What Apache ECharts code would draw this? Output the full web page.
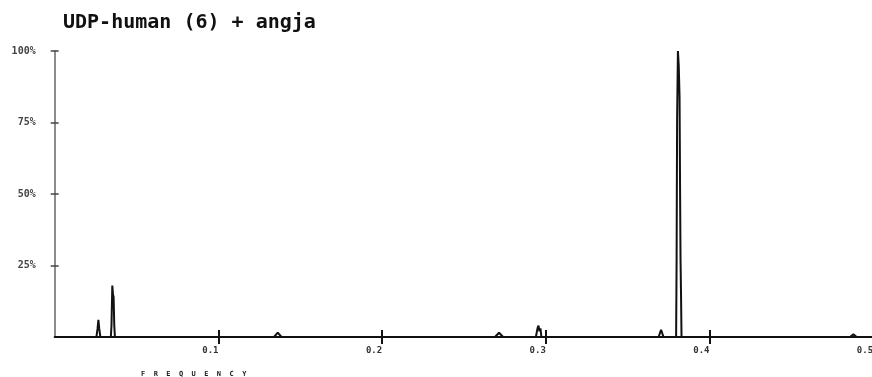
<!DOCTYPE html>
<html>
<head>
<meta charset="utf-8">
<script src="https://cdn.jsdelivr.net/npm/echarts@6/dist/echarts.min.js"></script>
<style>
  html, body { margin: 0; padding: 0; background: #fff; }
  #chart { width: 872px; height: 377px; }
</style>
</head>
<body>
<div id="chart"></div>
<script>
// spectrum: frequency (x) and relative amplitude in % (y)
const freqs = [
  0.0000,
  0.0255, 0.0262, 0.0267, 0.0272, 0.0279,
  0.0343, 0.0347, 0.0352, 0.0356, 0.0360, 0.0364, 0.0368,
  0.1275, 0.1280, 0.1285,
  0.1340, 0.1363, 0.1386,
  0.1675, 0.1680, 0.1685,
  0.1775, 0.1780, 0.1785,
  0.2655, 0.2660, 0.2665,
  0.2690, 0.2715, 0.2740,
  0.2940, 0.2950, 0.2956, 0.2962, 0.2968, 0.2974,
  0.3493, 0.3498, 0.3503,
  0.3580, 0.3585, 0.3590,
  0.3690, 0.3705, 0.3720,
  0.3797, 0.3800, 0.3803, 0.3808, 0.3813, 0.3818, 0.3821, 0.3824, 0.3827, 0.3830,
  0.4175, 0.4180, 0.4185,
  0.4425, 0.4430, 0.4435,
  0.4585, 0.4590, 0.4595,
  0.4860, 0.4880, 0.4900,
  0.5000
];
const amps = [
  0,
  0, 3, 6, 3, 0,
  0, 4, 18, 15, 14, 4, 0,
  0, 0.6, 0,
  0, 1.5, 0,
  0, 0.6, 0,
  0, 0.6, 0,
  0, 0.6, 0,
  0, 1.5, 0,
  0, 3, 4, 2, 3, 0,
  0, 0.6, 0,
  0, 0.6, 0,
  0, 2.5, 0,
  0, 27, 76, 100, 95, 84, 53, 27, 15, 0,
  0, 0.6, 0,
  0, 0.6, 0,
  0, 0.6, 0,
  0, 1, 0,
  0
];
const xTicks = [0.1, 0.2, 0.3, 0.4, 0.5];
const yTicks = [25, 50, 75, 100];

const mono = "DejaVu Sans Mono";
const chart = echarts.init(document.getElementById("chart"));

const yAxisBase = {
  type: "value", min: 0, max: 100, interval: 25, position: "left",
  splitLine: { show: false },
};
const xAxisBase = {
  type: "value", min: 0, max: 0.5, interval: 0.1, position: "bottom",
  splitLine: { show: false },
};

chart.setOption({
  animation: false,
  backgroundColor: "#fff",
  title: [
    {
      text: "UDP-human (6) + angja",
      left: 58, top: 8,
      textStyle: { fontFamily: mono, fontWeight: "bold", fontSize: 20, color: "#111" },
    },
    {
      text: "F  R  E  Q  U  E  N  C  Y",
      left: 136, top: 366,
      textStyle: { fontFamily: mono, fontWeight: "bold", fontSize: 7, color: "#222" },
    },
  ],
  grid: { left: 54.7, right: -1, top: 51, bottom: 40, outerBoundsMode: "none" },
  xAxis: [
    Object.assign({}, xAxisBase, {
      axisLine: { show: true, onZero: false, lineStyle: { color: "#111", width: 2 } },
      axisTick: { show: true, length: 7, customValues: xTicks, lineStyle: { color: "#111", width: 2 } },
      axisLabel: {
        margin: 9, color: "#333", fontFamily: mono, fontWeight: "bold", fontSize: 9,
        customValues: xTicks, padding: [0, 16, 0, 0],
        formatter: (v) => (+v).toFixed(1),
      },
    }),
    Object.assign({}, xAxisBase, {
      axisLine: { show: false },
      axisTick: { show: true, inside: true, length: 7, customValues: xTicks, lineStyle: { color: "#111", width: 2 } },
      axisLabel: { show: false },
    }),
  ],
  yAxis: [
    Object.assign({}, yAxisBase, {
      axisLine: { show: true, onZero: false, lineStyle: { color: "#666", width: 1.5 } },
      axisTick: { show: true, length: 4, customValues: yTicks, lineStyle: { color: "#444", width: 1.5 } },
      axisLabel: {
        margin: 19, color: "#444", fontFamily: mono, fontWeight: "bold", fontSize: 10,
        customValues: yTicks,
        formatter: (v) => v + "%",
      },
    }),
    Object.assign({}, yAxisBase, {
      axisLine: { show: false },
      axisTick: { show: true, inside: true, length: 4, customValues: yTicks, lineStyle: { color: "#444", width: 1.5 } },
      axisLabel: { show: false },
    }),
  ],
  series: [{
    type: "line",
    xAxisIndex: 0,
    yAxisIndex: 0,
    data: freqs.map((f, i) => [f, amps[i]]),
    showSymbol: false,
    lineStyle: { color: "#111", width: 2 },
  }],
});
</script>
</body>
</html>
